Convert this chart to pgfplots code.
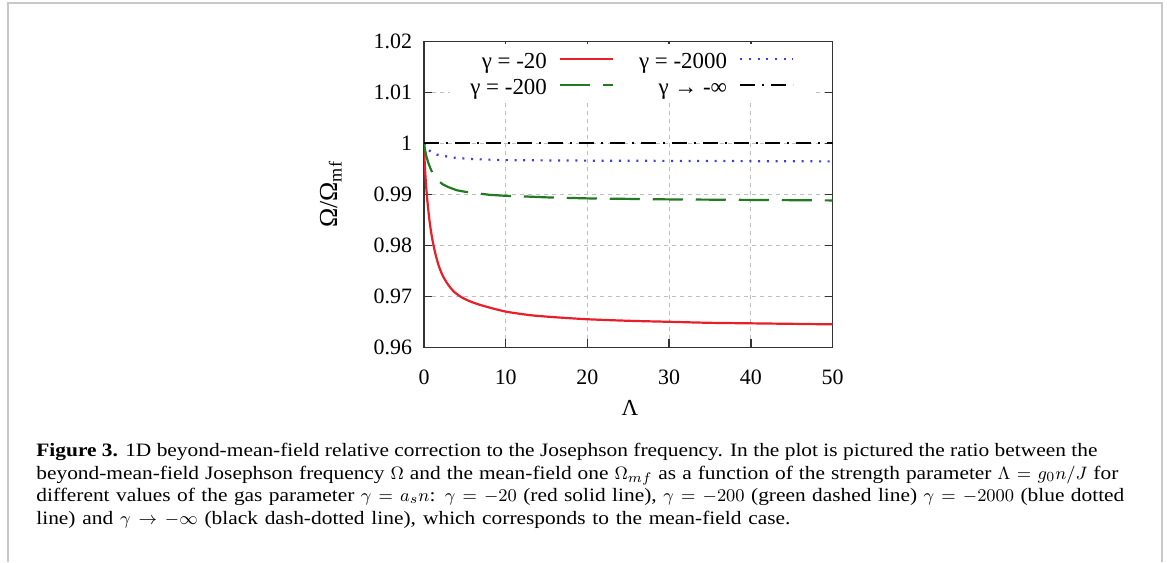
\documentclass[border=0pt]{standalone}
\usepackage{fontspec}
\setmainfont{Liberation Serif}
\newfontfamily\capfont[FakeStretch=1.13]{Liberation Serif}
\usepackage{pgfplots}
\usepackage{pgfplotstable}
\pgfplotsset{compat=1.18}
\definecolor{cred}{RGB}{232,30,40}
\definecolor{cgreen}{RGB}{34,122,34}
\definecolor{cblue}{RGB}{60,60,235}
\definecolor{frame}{RGB}{200,200,200}

\pgfplotstableread{
L f
0 1.0000
0.04 0.9981
0.08 0.9964
0.15 0.9942
0.25 0.9918
0.35 0.9898
0.5 0.9873
0.7 0.9845
0.9 0.9823
1.1 0.9805
1.4 0.9783
1.8 0.9760
2.3 0.9740
2.9 0.9724
3.6 0.9710
4.5 0.9699
5.5 0.9691
6.5 0.9685
8.0 0.9678
10 0.9670
13 0.9663
16 0.9659
20 0.9655
25 0.9652
30 0.9650
35 0.9648
40 0.9647
45 0.9646
50 0.9645
}\redtab

\pgfplotstableread{
L f
0 1.0000
0.15 0.9985
0.3 0.9974
0.5 0.9963
0.75 0.9952
1.0 0.9943
1.4 0.9934
1.75 0.9927
2.25 0.9920
3.0 0.9914
4.0 0.9908
5.0 0.9905
6.5 0.9902
8.0 0.9899
10 0.9897
12 0.9896
15 0.9894
20 0.9892
25 0.9891
30 0.9890
40 0.9889
50 0.9888
}\greentab

\pgfplotstableread{
L f
0 1.0000
0.2 0.9994
0.53 0.9987
1.0 0.9982
1.55 0.9978
2.5 0.9975
3.6 0.9972
5.9 0.9969
10 0.9967
15 0.99665
20 0.9966
30 0.99655
40 0.9965
50 0.99645
}\bluetab

\pgfplotstableread{
L f
0 1.0
50 1.0
}\blacktab

\begin{document}
\begin{tikzpicture}[x=1bp,y=1bp]
\useasboundingbox (0,0) rectangle (583.5,281);
\draw[line width=1bp, frame] (4,0) -- (4,279.5) -- (581,279.5) -- (581,0);
\begin{axis}[
  at={(212bp,107.35bp)}, anchor=south west,
  scale only axis, width=204.25bp, height=153bp,
  xmin=0, xmax=50, ymin=0.96, ymax=1.02,
  xtick={0,10,20,30,40,50},
  ytick={0.96,0.97,0.98,0.99,1.00,1.01,1.02},
  scaled y ticks=false,
  /pgf/number format/assume math mode=true,
  tick label style={font=\fontsize{11}{13}\selectfont},
  xticklabel style={yshift=-7.6bp},
  yticklabel style={xshift=-2.5bp},
  tick align=inside, major tick length=4bp,
  axis line style={black!80, line width=0.7bp},
  tick style={black!80, line width=0.7bp},
  grid=major,
  grid style={black!25, line width=0.5bp, dash pattern=on 2bp off 2bp},
  xlabel={Λ}, ylabel={Ω/Ω\textsubscript{mf}},
  every axis x label/.style={at={(axis description cs:0.504,-0.198)}, anchor=center, font=\fontsize{11.5}{13}\selectfont},
  every axis y label/.style={at={(axis description cs:-0.228,0.5)}, rotate=90, anchor=center, font=\fontsize{13}{15}\selectfont},
  legend columns=2,
  legend cell align=right,
  legend plot pos=right,
  legend image code/.code={\draw[mark repeat=2,mark phase=2] plot coordinates {(0bp,0bp) (13bp,0bp) (26.5bp,0bp)};},
  legend style={at={(axis description cs:0.51,1)}, anchor=north, yshift=-1bp, draw=none, fill=white,
    font=\fontsize{11.5}{13}\selectfont, inner xsep=10bp, inner ysep=1.35bp,
    row sep=0bp, column sep=6bp,
    nodes={inner sep=0bp, text height=11.3bp, text depth=1.7bp},
    /tikz/every even column/.append style={column sep=12.5bp}},
]
\addplot[cred, line width=1.1bp, smooth, tension=0.4] table[x=L,y=f] {\redtab};
\addlegendentry{γ = -20}
\addplot[cblue, line width=1.1bp, dash pattern=on 1bp off 3.35bp] table[x=L,y=f] {\bluetab};
\addlegendentry{γ = -2000}
\addplot[cgreen, line width=1.1bp, dash pattern=on 15bp off 6.5bp] table[x=L,y=f] {\greentab};
\addlegendentry{γ = -200}
\addplot[black, line width=1.1bp, dash pattern=on 7.5bp off 3.5bp on 1bp off 3.5bp] table[x=L,y=f] {\blacktab};
\addlegendentry{γ → -∞}
\end{axis}
\begin{scope}[every node/.style={anchor=base west, inner sep=0pt, font=\capfont\fontsize{9.5}{11.35}\selectfont}]
\node at (18,53) {\makebox[530.5bp][s]{\textbf{Figure 3.} 1D beyond-mean-field relative correction to the Josephson frequency. In the plot is pictured the ratio between the}};
\node at (18,41.5) {\makebox[541bp][s]{beyond-mean-field Josephson frequency $\Omega$ and the mean-field one $\Omega_{mf}$ as a function of the strength parameter $\Lambda = g_0 n/J$ for}};
\node at (18,30.5) {\makebox[544bp][s]{different values of the gas parameter $\gamma = a_s n$: $\gamma = -20$ (red solid line), $\gamma = -200$ (green dashed line) $\gamma = -2000$ (blue dotted}};
\node at (18,19) {\makebox[377bp][s]{line) and $\gamma \to -\infty$ (black dash-dotted line), which corresponds to the mean-field case.}};
\end{scope}
\end{tikzpicture}
\end{document}
